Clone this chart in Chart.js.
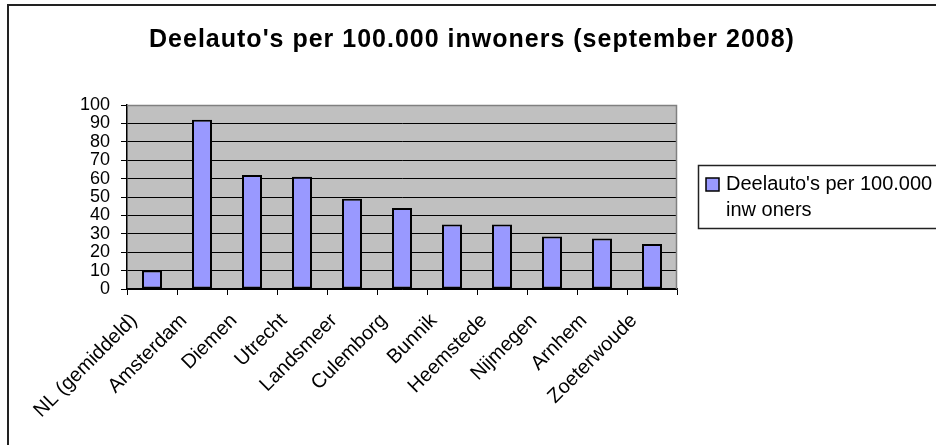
<!DOCTYPE html>
<html>
<head>
<meta charset="utf-8">
<script src="https://cdn.jsdelivr.net/npm/chart.js@4"></script>
<style>
    html, body { margin: 0; padding: 0; background: #fff; }
    #wrap { width: 936px; height: 445px; position: relative; }
</style>
</head>
<body>
<div id="wrap"><canvas id="deelautoChart" width="936" height="445"></canvas></div>
<script>
// Data
const categories = ['NL (gemiddeld)', 'Amsterdam', 'Diemen', 'Utrecht', 'Landsmeer', 'Culemborg',
    'Bunnik', 'Heemstede', 'Nijmegen', 'Arnhem', 'Zoeterwoude'];
const values = [10, 92, 62, 61, 49, 44, 35, 35, 28.5, 27.5, 24.5];
const yTicks = [0, 10, 20, 30, 40, 50, 60, 70, 80, 90, 100];
const titleText = "Deelauto's per 100.000 inwoners (september 2008)";
const seriesLabel = "Deelauto's per 100.000 inw oners";
const legendLines = ["Deelauto's per 100.000", "inw oners"];

const FONT = "'Liberation Sans', Arial, sans-serif";
const BAR_COLOR = '#9999FF';

// Background, title, plot area, frame and legend box
const excelLook = {
    id: 'excelLook',
    beforeDraw(chart) {
        const ctx = chart.ctx;
        const a = chart.chartArea;
        ctx.save();
        ctx.fillStyle = '#fff';
        ctx.fillRect(0, 0, chart.width, chart.height);
        // outer frame (right/bottom edges fall outside the picture)
        ctx.strokeStyle = '#222';
        ctx.lineWidth = 2;
        ctx.strokeRect(8, 5, chart.width + 20, chart.height + 20);
        // plot area
        ctx.fillStyle = '#C0C0C0';
        ctx.fillRect(a.left, a.top, a.right - a.left, a.bottom - a.top);
        // title
        ctx.fillStyle = '#000';
        ctx.font = 'bold 25px ' + FONT;
        ctx.letterSpacing = '1px';
        ctx.textAlign = 'center';
        ctx.textBaseline = 'alphabetic';
        ctx.fillText(titleText, 472, 47);
        ctx.restore();
    },
    afterDraw(chart) {
        const ctx = chart.ctx;
        const a = chart.chartArea;
        ctx.save();
        // gray top/right border of the plot area
        ctx.strokeStyle = '#808080';
        ctx.lineWidth = 1.5;
        ctx.beginPath();
        ctx.moveTo(a.left, a.top + 0.5);
        ctx.lineTo(a.right - 0.5, a.top + 0.5);
        ctx.lineTo(a.right - 0.5, a.bottom);
        ctx.stroke();

        // legend
        ctx.strokeStyle = '#222';
        ctx.lineWidth = 1.5;
        ctx.strokeRect(698.5, 165.5, 260, 63);
        ctx.fillStyle = BAR_COLOR;
        ctx.fillRect(706, 178, 13, 13);
        ctx.strokeStyle = '#000';
        ctx.lineWidth = 1.5;
        ctx.strokeRect(706, 178, 13, 13);
        ctx.fillStyle = '#000';
        ctx.font = '20px ' + FONT;
        ctx.textBaseline = 'alphabetic';
        ctx.textAlign = 'left';
        legendLines.forEach((line, i) => {
            ctx.fillText(line, 726, 190 + i * 26);
        });
        ctx.restore();
    }
};

const ctx = document.getElementById('deelautoChart').getContext('2d');
new Chart(ctx, {
    type: 'bar',
    data: {
        labels: categories,
        datasets: [{
            label: seriesLabel,
            data: values,
            backgroundColor: BAR_COLOR,
            borderColor: '#000',
            borderWidth: 2,
            borderSkipped: false,
            categoryPercentage: 1,
            barPercentage: 0.4
        }]
    },
    options: {
        responsive: false,
        animation: false,
        layout: {
            padding: { left: 0, right: 259, top: 105, bottom: 0 }
        },
        plugins: {
            legend: { display: false },
            tooltip: { enabled: false },
            title: { display: false }
        },
        scales: {
            x: {
                offset: true,
                afterFit: (scale) => { scale.height = 156; },
                grid: {
                    offset: true,
                    drawOnChartArea: false,
                    drawTicks: true,
                    tickLength: 6,
                    color: '#000'
                },
                border: { color: '#000', width: 1.5 },
                ticks: {
                    color: '#000',
                    font: { family: FONT, size: 20 },
                    minRotation: 45,
                    maxRotation: 45,
                    autoSkip: false,
                    labelOffset: -18,
                    padding: 14
                }
            },
            y: {
                min: 0,
                max: 100,
                afterFit: (scale) => { scale.width = 127; },
                afterBuildTicks: (scale) => { scale.ticks = yTicks.map(v => ({ value: v })); },
                grid: {
                    color: '#000',
                    lineWidth: 1,
                    drawTicks: true,
                    tickLength: 6
                },
                border: { color: '#000', width: 1.5 },
                ticks: {
                    color: '#000',
                    font: { family: FONT, size: 18, lineHeight: 1 },
                    autoSkip: false,
                    padding: 11
                }
            }
        }
    },
    plugins: [excelLook]
});
</script>
</body>
</html>
